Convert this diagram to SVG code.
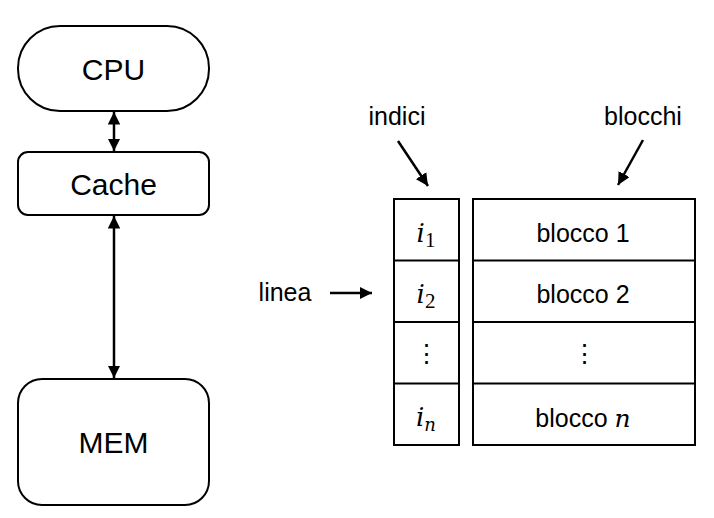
<svg xmlns="http://www.w3.org/2000/svg" width="714" height="518" viewBox="0 0 714 518">
<style>
.box{fill:#fff;stroke:#000;stroke-width:2}
.lbl{font-family:"Liberation Sans",Arial,sans-serif;fill:#000;text-anchor:middle}
.big{font-size:30px}
.sm{font-size:25px}
.math{font-family:"DejaVu Serif","Liberation Serif",serif;font-style:italic;font-size:26px;text-anchor:middle}
.sub{font-family:"Liberation Serif",serif;font-style:normal;font-size:21px}
.subi{font-family:"DejaVu Serif",serif;font-style:italic;font-size:18px}
.con{stroke:#000;stroke-width:2.5;fill:none}
.ln{stroke:#000;stroke-width:2;fill:none}
</style>
<defs>
<marker id="ah" viewBox="0 0 10 10" refX="10" refY="5" markerWidth="5" markerHeight="5" orient="auto-start-reverse" markerUnits="strokeWidth">
<path d="M0,0 L10,5 L0,10 z" fill="#000"/>
</marker>
</defs>
<g id="cpu"><rect class="box" x="18" y="26" width="191" height="85" rx="42" ry="42"/><text class="lbl big" x="113.5" y="80">CPU</text></g>
<g id="cache"><rect class="box" x="18" y="152" width="191" height="63" rx="10" ry="10"/><text class="lbl big" x="113.5" y="195">Cache</text></g>
<g id="mem"><rect class="box" x="18" y="379" width="191" height="126" rx="24" ry="24"/><text class="lbl big" x="113.5" y="453">MEM</text></g>
<g id="indici-label"><text class="lbl sm" x="397" y="125">indici</text></g>
<g id="blocchi-label"><text class="lbl sm" x="643" y="125">blocchi</text></g>
<g id="linea-label"><text class="lbl sm" x="285" y="301">linea</text></g>
<g id="index-column">
<rect class="box" x="394" y="199" width="65" height="246"/>
<line class="ln" x1="394" y1="260.5" x2="459" y2="260.5"/>
<line class="ln" x1="394" y1="322" x2="459" y2="322"/>
<line class="ln" x1="394" y1="383.5" x2="459" y2="383.5"/>
<text class="math" x="426" y="242">i<tspan class="sub" dy="5">1</tspan></text>
<text class="math" x="426" y="303">i<tspan class="sub" dy="5">2</tspan></text>
<text class="lbl sm" x="426.5" y="362">⋮</text>
<text class="math" x="426" y="426">i<tspan class="subi" dy="5">n</tspan></text>
</g>
<g id="block-column">
<rect class="box" x="473" y="199" width="222" height="246"/>
<line class="ln" x1="473" y1="260.5" x2="695" y2="260.5"/>
<line class="ln" x1="473" y1="322" x2="695" y2="322"/>
<line class="ln" x1="473" y1="383.5" x2="695" y2="383.5"/>
<text class="lbl sm" x="583" y="242">blocco 1</text>
<text class="lbl sm" x="583" y="303">blocco 2</text>
<text class="lbl sm" x="584" y="362">⋮</text>
<text class="lbl sm" x="583" y="427">blocco <tspan font-family="DejaVu Serif,serif" font-style="italic" font-size="25">n</tspan></text>
</g>
<g id="connectors">
<line class="con" x1="114" y1="112" x2="114" y2="151" marker-start="url(#ah)" marker-end="url(#ah)"/>
<line class="con" x1="114" y1="216" x2="114" y2="378" marker-start="url(#ah)" marker-end="url(#ah)"/>
<line class="con" x1="398" y1="141" x2="428" y2="186" marker-end="url(#ah)"/>
<line class="con" x1="643" y1="140" x2="618" y2="185" marker-end="url(#ah)"/>
<line class="con" x1="330" y1="293" x2="372" y2="293" marker-end="url(#ah)"/>
</g>
</svg>
